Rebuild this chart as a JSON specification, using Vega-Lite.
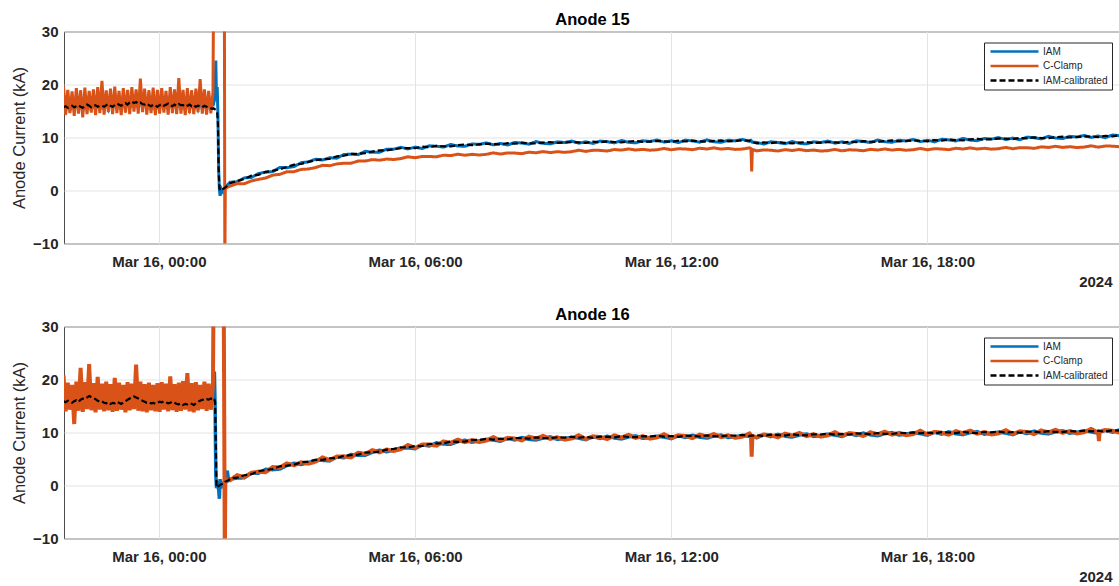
{
"$schema":"https://vega.github.io/schema/vega-lite/v6.json",
"padding":{"left":11,"top":10.5,"right":0,"bottom":0},
"spacing":15,
"resolve":{"scale":{"color":"independent","strokeDash":"independent"},"legend":{"color":"independent","strokeDash":"independent"}},
"config":{
"font":"Liberation Sans",
"view":{"stroke":"#4d4d4d","strokeWidth":1},
"axis":{"labelFont":"Liberation Sans","labelFontSize":15,"labelFontWeight":"bold","labelColor":"#262626","titleFont":"Liberation Sans","titleColor":"#262626","gridColor":"#e3e3e3","gridWidth":1,"domain":false,"ticks":false},
"title":{"font":"Liberation Sans","fontSize":16.5,"fontWeight":"bold","color":"#000000","offset":-3.5},
"legend":{"symbolType":"M-12,0H12","symbolSize":16,"symbolStrokeWidth":2.5,"symbolOffset":21.5,"labelOffset":23.5,"labelFontSize":10,"labelFont":"Liberation Sans","labelColor":"#262626","strokeColor":"#262626","fillColor":"#ffffff","padding":4,"rowPadding":4.5}
},
"datasets":{
"a15":[
{"t":"2024-03-15T21:46","i":16.2,"c":19.6,"k":15.7},
{"t":"2024-03-15T21:49","i":15.1,"c":14.3,"k":15.9},
{"t":"2024-03-15T21:52","i":17.2,"c":19.0,"k":15.6},
{"t":"2024-03-15T21:55","i":15.0,"c":14.6,"k":15.8},
{"t":"2024-03-15T21:58","i":16.8,"c":18.7,"k":16.0},
{"t":"2024-03-15T22:01","i":15.3,"c":14.1,"k":15.7},
{"t":"2024-03-15T22:04","i":17.0,"c":19.3,"k":15.9},
{"t":"2024-03-15T22:07","i":15.2,"c":14.5,"k":16.1},
{"t":"2024-03-15T22:10","i":16.9,"c":18.9,"k":15.8},
{"t":"2024-03-15T22:13","i":14.9,"c":13.8,"k":15.6},
{"t":"2024-03-15T22:16","i":17.1,"c":19.4,"k":15.9},
{"t":"2024-03-15T22:19","i":15.4,"c":14.4,"k":16.2},
{"t":"2024-03-15T22:22","i":16.7,"c":18.8,"k":16.0},
{"t":"2024-03-15T22:25","i":15.1,"c":14.7,"k":15.7},
{"t":"2024-03-15T22:28","i":17.0,"c":19.1,"k":15.9},
{"t":"2024-03-15T22:31","i":15.3,"c":14.2,"k":16.1},
{"t":"2024-03-15T22:34","i":16.9,"c":19.5,"k":15.8},
{"t":"2024-03-15T22:37","i":15.2,"c":14.6,"k":16.0},
{"t":"2024-03-15T22:40","i":17.3,"c":20.7,"k":16.0},
{"t":"2024-03-15T22:43","i":15.2,"c":14.3,"k":15.8},
{"t":"2024-03-15T22:46","i":16.8,"c":18.9,"k":16.1},
{"t":"2024-03-15T22:49","i":15.5,"c":14.8,"k":16.3},
{"t":"2024-03-15T22:52","i":17.1,"c":19.2,"k":16.0},
{"t":"2024-03-15T22:55","i":15.3,"c":14.4,"k":15.8},
{"t":"2024-03-15T22:58","i":17.2,"c":19.6,"k":16.1},
{"t":"2024-03-15T23:01","i":15.4,"c":14.6,"k":16.4},
{"t":"2024-03-15T23:04","i":16.9,"c":18.8,"k":16.2},
{"t":"2024-03-15T23:07","i":15.1,"c":14.2,"k":16.0},
{"t":"2024-03-15T23:10","i":17.0,"c":19.3,"k":16.3},
{"t":"2024-03-15T23:13","i":15.6,"c":14.7,"k":16.5},
{"t":"2024-03-15T23:16","i":17.2,"c":19.0,"k":16.2},
{"t":"2024-03-15T23:19","i":15.4,"c":14.4,"k":16.6},
{"t":"2024-03-15T23:22","i":17.4,"c":19.5,"k":16.8},
{"t":"2024-03-15T23:25","i":15.7,"c":14.9,"k":16.5},
{"t":"2024-03-15T23:28","i":17.3,"c":19.1,"k":16.7},
{"t":"2024-03-15T23:31","i":15.5,"c":14.5,"k":16.4},
{"t":"2024-03-15T23:34","i":17.6,"c":21.1,"k":16.6},
{"t":"2024-03-15T23:37","i":15.6,"c":14.8,"k":16.3},
{"t":"2024-03-15T23:40","i":17.1,"c":19.2,"k":16.2},
{"t":"2024-03-15T23:43","i":15.3,"c":14.3,"k":16.4},
{"t":"2024-03-15T23:46","i":16.9,"c":18.9,"k":16.1},
{"t":"2024-03-15T23:49","i":15.2,"c":14.6,"k":15.9},
{"t":"2024-03-15T23:52","i":17.0,"c":19.4,"k":16.2},
{"t":"2024-03-15T23:55","i":15.1,"c":14.2,"k":16.0},
{"t":"2024-03-15T23:58","i":16.8,"c":19.0,"k":15.8},
{"t":"2024-03-16T00:01","i":15.3,"c":14.5,"k":16.1},
{"t":"2024-03-16T00:04","i":17.1,"c":19.3,"k":16.3},
{"t":"2024-03-16T00:07","i":15.4,"c":14.7,"k":16.0},
{"t":"2024-03-16T00:10","i":16.9,"c":18.8,"k":16.2},
{"t":"2024-03-16T00:13","i":15.2,"c":14.3,"k":16.4},
{"t":"2024-03-16T00:16","i":17.2,"c":19.5,"k":16.1},
{"t":"2024-03-16T00:19","i":15.4,"c":14.6,"k":15.9},
{"t":"2024-03-16T00:22","i":17.0,"c":19.1,"k":16.2},
{"t":"2024-03-16T00:25","i":15.3,"c":14.4,"k":16.0},
{"t":"2024-03-16T00:28","i":17.1,"c":21.2,"k":16.3},
{"t":"2024-03-16T00:31","i":15.3,"c":14.5,"k":16.1},
{"t":"2024-03-16T00:34","i":16.9,"c":19.0,"k":16.1},
{"t":"2024-03-16T00:37","i":15.1,"c":14.2,"k":15.8},
{"t":"2024-03-16T00:40","i":17.0,"c":19.3,"k":16.0},
{"t":"2024-03-16T00:43","i":15.4,"c":14.6,"k":16.2},
{"t":"2024-03-16T00:46","i":16.8,"c":18.9,"k":15.9},
{"t":"2024-03-16T00:49","i":15.2,"c":14.4,"k":16.1},
{"t":"2024-03-16T00:52","i":17.0,"c":19.2,"k":15.8},
{"t":"2024-03-16T00:55","i":15.5,"c":14.8,"k":16.0},
{"t":"2024-03-16T00:58","i":17.1,"c":21.0,"k":15.9},
{"t":"2024-03-16T01:01","i":15.3,"c":14.5,"k":15.7},
{"t":"2024-03-16T01:04","i":17.0,"c":19.1,"k":16.0},
{"t":"2024-03-16T01:07","i":15.2,"c":14.3,"k":15.8},
{"t":"2024-03-16T01:10","i":16.9,"c":18.8,"k":15.6},
{"t":"2024-03-16T01:13","i":15.4,"c":14.6,"k":15.5},
{"t":"2024-03-16T01:16","i":16.8,"c":18.5,"k":15.4},
{"t":"2024-03-16T01:17","i":16.5,"c":40,"k":15.5},
{"t":"2024-03-16T01:19","i":17.5,"c":40,"k":15.3},
{"t":"2024-03-16T01:20","i":24.5,"c":40,"k":15.2},
{"t":"2024-03-16T01:21","i":17.0,"c":40,"k":15.0},
{"t":"2024-03-16T01:22","i":19.5,"c":40,"k":14.6},
{"t":"2024-03-16T01:23","i":14.0,"c":40,"k":12.5},
{"t":"2024-03-16T01:24","i":4.0,"c":40,"k":4.0},
{"t":"2024-03-16T01:25","i":0.2,"c":40,"k":0.6},
{"t":"2024-03-16T01:26","i":-1.0,"c":40,"k":0.0},
{"t":"2024-03-16T01:28","i":0.3,"c":40,"k":0.2},
{"t":"2024-03-16T01:30","i":-0.2,"c":40,"k":0.3},
{"t":"2024-03-16T01:32","i":0.4,"c":40,"k":0.4},
{"t":"2024-03-16T01:32:40","i":0.5,"c":-15,"k":0.5},
{"t":"2024-03-16T01:33:20","i":0.6,"c":0.3,"k":0.6},
{"t":"2024-03-16T01:36","i":1.0,"c":0.6,"k":0.9},
{"t":"2024-03-16T01:40","i":1.55,"c":0.82,"k":1.37},
{"t":"2024-03-16T01:50","i":1.65,"c":1.3,"k":1.8},
{"t":"2024-03-16T02:00","i":2.38,"c":1.28,"k":2.18},
{"t":"2024-03-16T02:10","i":2.45,"c":1.81,"k":2.8},
{"t":"2024-03-16T02:20","i":3.2,"c":2.1,"k":2.95},
{"t":"2024-03-16T02:30","i":3.45,"c":2.35,"k":3.52},
{"t":"2024-03-16T02:40","i":3.57,"c":2.9,"k":3.73},
{"t":"2024-03-16T02:50","i":4.35,"c":3.05,"k":4.0},
{"t":"2024-03-16T03:00","i":4.3,"c":3.54,"k":4.45},
{"t":"2024-03-16T03:10","i":4.52,"c":3.56,"k":4.87},
{"t":"2024-03-16T03:20","i":5.25,"c":3.98,"k":5.03},
{"t":"2024-03-16T03:30","i":5.4,"c":4.05,"k":5.39},
{"t":"2024-03-16T03:40","i":5.9,"c":4.32,"k":5.72},
{"t":"2024-03-16T03:50","i":5.75,"c":4.75,"k":5.9},
{"t":"2024-03-16T04:00","i":6.18,"c":4.68,"k":5.98},
{"t":"2024-03-16T04:10","i":6.1,"c":5.01,"k":6.45},
{"t":"2024-03-16T04:20","i":6.8,"c":5.15,"k":6.55},
{"t":"2024-03-16T04:30","i":6.85,"c":5.15,"k":6.92},
{"t":"2024-03-16T04:40","i":6.77,"c":5.55,"k":6.93},
{"t":"2024-03-16T04:50","i":7.4,"c":5.55,"k":7.05},
{"t":"2024-03-16T05:00","i":7.2,"c":5.84,"k":7.35},
{"t":"2024-03-16T05:10","i":7.22,"c":5.71,"k":7.57},
{"t":"2024-03-16T05:20","i":7.8,"c":5.93,"k":7.58},
{"t":"2024-03-16T05:30","i":7.8,"c":5.85,"k":7.79},
{"t":"2024-03-16T05:40","i":8.15,"c":6.02,"k":7.97},
{"t":"2024-03-16T05:50","i":7.85,"c":6.35,"k":8.0},
{"t":"2024-03-16T06:00","i":8.18,"c":6.18,"k":7.98},
{"t":"2024-03-16T06:10","i":7.92,"c":6.43,"k":8.27},
{"t":"2024-03-16T06:20","i":8.43,"c":6.43,"k":8.18},
{"t":"2024-03-16T06:30","i":8.35,"c":6.35,"k":8.42},
{"t":"2024-03-16T06:40","i":8.19,"c":6.67,"k":8.35},
{"t":"2024-03-16T06:50","i":8.68,"c":6.58,"k":8.33},
{"t":"2024-03-16T07:00","i":8.4,"c":6.84,"k":8.55},
{"t":"2024-03-16T07:10","i":8.34,"c":6.66,"k":8.69},
{"t":"2024-03-16T07:20","i":8.78,"c":6.83,"k":8.56},
{"t":"2024-03-16T07:30","i":8.7,"c":6.7,"k":8.69},
{"t":"2024-03-16T07:40","i":8.98,"c":6.82,"k":8.8},
{"t":"2024-03-16T07:50","i":8.62,"c":7.1,"k":8.77},
{"t":"2024-03-16T08:00","i":8.88,"c":6.88,"k":8.68},
{"t":"2024-03-16T08:10","i":8.58,"c":7.09,"k":8.93},
{"t":"2024-03-16T08:20","i":9.07,"c":7.07,"k":8.82},
{"t":"2024-03-16T08:30","i":8.95,"c":6.95,"k":9.02},
{"t":"2024-03-16T08:40","i":8.75,"c":7.23,"k":8.91},
{"t":"2024-03-16T08:50","i":9.22,"c":7.12,"k":8.87},
{"t":"2024-03-16T09:00","i":8.9,"c":7.34,"k":9.05},
{"t":"2024-03-16T09:10","i":8.79,"c":7.16,"k":9.14},
{"t":"2024-03-16T09:20","i":9.18,"c":7.33,"k":8.96},
{"t":"2024-03-16T09:30","i":9.05,"c":7.2,"k":9.04},
{"t":"2024-03-16T09:40","i":9.32,"c":7.32,"k":9.14},
{"t":"2024-03-16T09:50","i":8.93,"c":7.6,"k":9.08},
{"t":"2024-03-16T10:00","i":9.18,"c":7.38,"k":8.98},
{"t":"2024-03-16T10:10","i":8.87,"c":7.59,"k":9.22},
{"t":"2024-03-16T10:20","i":9.33,"c":7.57,"k":9.08},
{"t":"2024-03-16T10:30","i":9.2,"c":7.45,"k":9.27},
{"t":"2024-03-16T10:40","i":8.99,"c":7.73,"k":9.15},
{"t":"2024-03-16T10:50","i":9.43,"c":7.62,"k":9.08},
{"t":"2024-03-16T11:00","i":9.1,"c":7.84,"k":9.25},
{"t":"2024-03-16T11:10","i":8.99,"c":7.63,"k":9.34},
{"t":"2024-03-16T11:20","i":9.38,"c":7.76,"k":9.16},
{"t":"2024-03-16T11:30","i":9.25,"c":7.6,"k":9.24},
{"t":"2024-03-16T11:40","i":9.52,"c":7.69,"k":9.34},
{"t":"2024-03-16T11:50","i":9.13,"c":7.93,"k":9.28},
{"t":"2024-03-16T12:00","i":9.38,"c":7.68,"k":9.18},
{"t":"2024-03-16T12:10","i":9.05,"c":7.88,"k":9.4},
{"t":"2024-03-16T12:20","i":9.5,"c":7.83,"k":9.25},
{"t":"2024-03-16T12:30","i":9.35,"c":7.7,"k":9.42},
{"t":"2024-03-16T12:40","i":9.12,"c":7.97,"k":9.28},
{"t":"2024-03-16T12:50","i":9.55,"c":7.83,"k":9.2},
{"t":"2024-03-16T13:00","i":9.2,"c":8.04,"k":9.35},
{"t":"2024-03-16T13:10","i":9.09,"c":7.81,"k":9.44},
{"t":"2024-03-16T13:20","i":9.49,"c":7.93,"k":9.27},
{"t":"2024-03-16T13:30","i":9.36,"c":7.75,"k":9.35},
{"t":"2024-03-16T13:40","i":9.63,"c":7.82,"k":9.45},
{"t":"2024-03-16T13:50","i":9.25,"c":8.05,"k":9.4},
{"t":"2024-03-16T13:52","i":9.45,"c":7.9,"k":9.35},
{"t":"2024-03-16T13:53","i":9.3,"c":3.6,"k":9.28},
{"t":"2024-03-16T13:54","i":9.1,"c":7.75,"k":9.15},
{"t":"2024-03-16T14:00","i":9.08,"c":7.48,"k":8.88},
{"t":"2024-03-16T14:10","i":8.75,"c":7.66,"k":9.1},
{"t":"2024-03-16T14:20","i":9.2,"c":7.6,"k":8.95},
{"t":"2024-03-16T14:30","i":9.05,"c":7.45,"k":9.12},
{"t":"2024-03-16T14:40","i":8.82,"c":7.7,"k":8.98},
{"t":"2024-03-16T14:50","i":9.25,"c":7.55,"k":8.9},
{"t":"2024-03-16T15:00","i":8.9,"c":7.74,"k":9.05},
{"t":"2024-03-16T15:10","i":8.79,"c":7.51,"k":9.14},
{"t":"2024-03-16T15:20","i":9.18,"c":7.63,"k":8.96},
{"t":"2024-03-16T15:30","i":9.05,"c":7.45,"k":9.04},
{"t":"2024-03-16T15:40","i":9.32,"c":7.52,"k":9.14},
{"t":"2024-03-16T15:50","i":8.93,"c":7.75,"k":9.08},
{"t":"2024-03-16T16:00","i":9.18,"c":7.48,"k":8.98},
{"t":"2024-03-16T16:10","i":8.88,"c":7.68,"k":9.23},
{"t":"2024-03-16T16:20","i":9.37,"c":7.63,"k":9.12},
{"t":"2024-03-16T16:30","i":9.25,"c":7.5,"k":9.32},
{"t":"2024-03-16T16:40","i":9.05,"c":7.77,"k":9.21},
{"t":"2024-03-16T16:50","i":9.52,"c":7.63,"k":9.17},
{"t":"2024-03-16T17:00","i":9.2,"c":7.84,"k":9.35},
{"t":"2024-03-16T17:10","i":9.09,"c":7.63,"k":9.44},
{"t":"2024-03-16T17:20","i":9.48,"c":7.76,"k":9.26},
{"t":"2024-03-16T17:30","i":9.35,"c":7.6,"k":9.34},
{"t":"2024-03-16T17:40","i":9.62,"c":7.69,"k":9.44},
{"t":"2024-03-16T17:50","i":9.23,"c":7.93,"k":9.38},
{"t":"2024-03-16T18:00","i":9.48,"c":7.68,"k":9.28},
{"t":"2024-03-16T18:10","i":9.18,"c":7.88,"k":9.53},
{"t":"2024-03-16T18:20","i":9.67,"c":7.83,"k":9.42},
{"t":"2024-03-16T18:30","i":9.55,"c":7.7,"k":9.62},
{"t":"2024-03-16T18:40","i":9.35,"c":7.97,"k":9.51},
{"t":"2024-03-16T18:50","i":9.82,"c":7.83,"k":9.47},
{"t":"2024-03-16T19:00","i":9.5,"c":8.04,"k":9.65},
{"t":"2024-03-16T19:10","i":9.4,"c":7.83,"k":9.75},
{"t":"2024-03-16T19:20","i":9.82,"c":7.96,"k":9.6},
{"t":"2024-03-16T19:30","i":9.7,"c":7.8,"k":9.69},
{"t":"2024-03-16T19:40","i":9.98,"c":7.89,"k":9.8},
{"t":"2024-03-16T19:50","i":9.62,"c":8.13,"k":9.77},
{"t":"2024-03-16T20:00","i":9.88,"c":7.88,"k":9.68},
{"t":"2024-03-16T20:10","i":9.58,"c":8.09,"k":9.93},
{"t":"2024-03-16T20:20","i":10.07,"c":8.07,"k":9.82},
{"t":"2024-03-16T20:30","i":9.95,"c":7.95,"k":10.02},
{"t":"2024-03-16T20:40","i":9.75,"c":8.23,"k":9.91},
{"t":"2024-03-16T20:50","i":10.22,"c":8.12,"k":9.87},
{"t":"2024-03-16T21:00","i":9.9,"c":8.34,"k":10.05},
{"t":"2024-03-16T21:10","i":9.8,"c":8.13,"k":10.15},
{"t":"2024-03-16T21:20","i":10.22,"c":8.26,"k":10.0},
{"t":"2024-03-16T21:30","i":10.1,"c":8.1,"k":10.09},
{"t":"2024-03-16T21:40","i":10.38,"c":8.19,"k":10.2},
{"t":"2024-03-16T21:50","i":10.02,"c":8.43,"k":10.17},
{"t":"2024-03-16T22:00","i":10.28,"c":8.18,"k":10.08},
{"t":"2024-03-16T22:10","i":9.98,"c":8.39,"k":10.33},
{"t":"2024-03-16T22:20","i":10.47,"c":8.37,"k":10.22},
{"t":"2024-03-16T22:30","i":10.35,"c":8.25,"k":10.42},
{"t":"2024-03-16T22:40","i":10.12,"c":8.5,"k":10.28}
],
"a16":[
{"t":"2024-03-15T21:46","i":16.5,"c":20.8,"k":15.9},
{"t":"2024-03-15T21:49","i":15.2,"c":14.0,"k":15.7},
{"t":"2024-03-15T21:52","i":17.0,"c":19.4,"k":16.0},
{"t":"2024-03-15T21:55","i":15.0,"c":14.3,"k":15.8},
{"t":"2024-03-15T21:58","i":16.8,"c":19.0,"k":15.6},
{"t":"2024-03-15T22:01","i":15.1,"c":11.6,"k":15.9},
{"t":"2024-03-15T22:04","i":17.1,"c":19.6,"k":16.1},
{"t":"2024-03-15T22:07","i":15.3,"c":14.1,"k":15.8},
{"t":"2024-03-15T22:10","i":17.0,"c":22.2,"k":16.2},
{"t":"2024-03-15T22:13","i":15.2,"c":13.9,"k":16.4},
{"t":"2024-03-15T22:16","i":16.9,"c":19.5,"k":16.3},
{"t":"2024-03-15T22:19","i":15.4,"c":14.4,"k":16.6},
{"t":"2024-03-15T22:22","i":17.2,"c":22.9,"k":16.9},
{"t":"2024-03-15T22:25","i":15.6,"c":14.2,"k":16.7},
{"t":"2024-03-15T22:28","i":17.0,"c":19.3,"k":16.5},
{"t":"2024-03-15T22:31","i":15.3,"c":13.8,"k":16.3},
{"t":"2024-03-15T22:34","i":17.1,"c":20.5,"k":16.0},
{"t":"2024-03-15T22:37","i":15.2,"c":14.3,"k":15.8},
{"t":"2024-03-15T22:40","i":16.8,"c":19.2,"k":15.9},
{"t":"2024-03-15T22:43","i":15.1,"c":14.0,"k":15.6},
{"t":"2024-03-15T22:46","i":17.0,"c":19.6,"k":15.5},
{"t":"2024-03-15T22:49","i":15.0,"c":14.2,"k":15.7},
{"t":"2024-03-15T22:52","i":16.7,"c":19.1,"k":15.4},
{"t":"2024-03-15T22:55","i":14.9,"c":13.9,"k":15.6},
{"t":"2024-03-15T22:58","i":16.9,"c":20.3,"k":15.5},
{"t":"2024-03-15T23:01","i":15.1,"c":14.1,"k":15.8},
{"t":"2024-03-15T23:04","i":17.0,"c":19.4,"k":15.6},
{"t":"2024-03-15T23:07","i":15.2,"c":14.3,"k":15.4},
{"t":"2024-03-15T23:10","i":16.8,"c":19.0,"k":15.7},
{"t":"2024-03-15T23:13","i":15.0,"c":13.8,"k":15.9},
{"t":"2024-03-15T23:16","i":17.1,"c":19.5,"k":16.2},
{"t":"2024-03-15T23:19","i":15.4,"c":14.2,"k":16.4},
{"t":"2024-03-15T23:22","i":17.2,"c":19.2,"k":16.6},
{"t":"2024-03-15T23:25","i":15.6,"c":14.4,"k":16.8},
{"t":"2024-03-15T23:28","i":17.3,"c":22.8,"k":16.6},
{"t":"2024-03-15T23:31","i":15.5,"c":14.1,"k":16.4},
{"t":"2024-03-15T23:34","i":17.0,"c":19.6,"k":16.2},
{"t":"2024-03-15T23:37","i":15.2,"c":14.0,"k":16.0},
{"t":"2024-03-15T23:40","i":16.8,"c":19.1,"k":15.8},
{"t":"2024-03-15T23:43","i":15.0,"c":13.8,"k":15.6},
{"t":"2024-03-15T23:46","i":16.9,"c":19.4,"k":15.7},
{"t":"2024-03-15T23:49","i":15.1,"c":14.2,"k":15.5},
{"t":"2024-03-15T23:52","i":16.7,"c":19.0,"k":15.6},
{"t":"2024-03-15T23:55","i":15.0,"c":14.0,"k":15.4},
{"t":"2024-03-15T23:58","i":16.8,"c":19.3,"k":15.6},
{"t":"2024-03-16T00:01","i":14.9,"c":13.9,"k":15.8},
{"t":"2024-03-16T00:04","i":17.0,"c":19.5,"k":15.7},
{"t":"2024-03-16T00:07","i":15.2,"c":14.3,"k":15.9},
{"t":"2024-03-16T00:10","i":16.9,"c":19.2,"k":15.7},
{"t":"2024-03-16T00:13","i":15.1,"c":14.0,"k":15.5},
{"t":"2024-03-16T00:16","i":17.0,"c":20.6,"k":15.6},
{"t":"2024-03-16T00:19","i":15.2,"c":14.2,"k":15.8},
{"t":"2024-03-16T00:22","i":16.8,"c":19.1,"k":15.6},
{"t":"2024-03-16T00:25","i":15.0,"c":13.9,"k":15.4},
{"t":"2024-03-16T00:28","i":16.9,"c":19.4,"k":15.3},
{"t":"2024-03-16T00:31","i":15.1,"c":14.1,"k":15.5},
{"t":"2024-03-16T00:34","i":16.7,"c":19.7,"k":15.2},
{"t":"2024-03-16T00:37","i":15.0,"c":14.3,"k":15.4},
{"t":"2024-03-16T00:40","i":16.9,"c":21.2,"k":15.3},
{"t":"2024-03-16T00:43","i":15.2,"c":14.0,"k":15.5},
{"t":"2024-03-16T00:46","i":16.8,"c":19.3,"k":15.4},
{"t":"2024-03-16T00:49","i":15.0,"c":13.8,"k":15.2},
{"t":"2024-03-16T00:52","i":17.0,"c":19.5,"k":15.5},
{"t":"2024-03-16T00:55","i":15.3,"c":14.2,"k":15.8},
{"t":"2024-03-16T00:58","i":16.9,"c":19.0,"k":16.0},
{"t":"2024-03-16T01:01","i":15.4,"c":14.4,"k":16.2},
{"t":"2024-03-16T01:04","i":17.1,"c":19.6,"k":16.1},
{"t":"2024-03-16T01:07","i":15.3,"c":14.1,"k":16.3},
{"t":"2024-03-16T01:10","i":17.0,"c":19.2,"k":16.2},
{"t":"2024-03-16T01:13","i":15.4,"c":14.3,"k":16.4},
{"t":"2024-03-16T01:16","i":16.5,"c":19.0,"k":16.2},
{"t":"2024-03-16T01:17","i":17.0,"c":40,"k":16.4},
{"t":"2024-03-16T01:18","i":21.5,"c":40,"k":16.3},
{"t":"2024-03-16T01:19","i":15.0,"c":40,"k":15.8},
{"t":"2024-03-16T01:20","i":2.0,"c":40,"k":8.0},
{"t":"2024-03-16T01:21","i":-0.5,"c":40,"k":-0.3},
{"t":"2024-03-16T01:22","i":0.8,"c":40,"k":-0.4},
{"t":"2024-03-16T01:23","i":-0.3,"c":40,"k":-0.2},
{"t":"2024-03-16T01:24","i":-0.8,"c":40,"k":-0.1},
{"t":"2024-03-16T01:25","i":-2.5,"c":40,"k":0.0},
{"t":"2024-03-16T01:26","i":1.2,"c":40,"k":0.1},
{"t":"2024-03-16T01:27","i":-0.5,"c":40,"k":0.2},
{"t":"2024-03-16T01:29","i":0.3,"c":40,"k":0.3},
{"t":"2024-03-16T01:31","i":0.5,"c":40,"k":0.4},
{"t":"2024-03-16T01:32:40","i":0.6,"c":-15,"k":0.5},
{"t":"2024-03-16T01:33:20","i":0.8,"c":0.6,"k":0.7},
{"t":"2024-03-16T01:36","i":2.8,"c":1.0,"k":0.9},
{"t":"2024-03-16T01:38","i":1.0,"c":1.1,"k":1.0},
{"t":"2024-03-16T01:40","i":1.23,"c":1.0,"k":1.32},
{"t":"2024-03-16T01:50","i":1.4,"c":1.95,"k":1.48},
{"t":"2024-03-16T02:00","i":1.45,"c":1.58,"k":1.94},
{"t":"2024-03-16T02:10","i":2.34,"c":2.41,"k":2.13},
{"t":"2024-03-16T02:20","i":2.33,"c":2.6,"k":2.7},
{"t":"2024-03-16T02:30","i":3.05,"c":2.5,"k":2.92},
{"t":"2024-03-16T02:40","i":2.99,"c":3.48,"k":3.12},
{"t":"2024-03-16T02:50","i":3.11,"c":3.38,"k":3.62},
{"t":"2024-03-16T03:00","i":3.77,"c":4.16,"k":3.75},
{"t":"2024-03-16T03:10","i":4.2,"c":3.81,"k":3.94},
{"t":"2024-03-16T03:20","i":3.97,"c":4.38,"k":4.37},
{"t":"2024-03-16T03:30","i":4.32,"c":4.1,"k":4.5},
{"t":"2024-03-16T03:40","i":4.73,"c":4.5,"k":4.82},
{"t":"2024-03-16T03:50","i":4.75,"c":5.3,"k":4.83},
{"t":"2024-03-16T04:00","i":4.65,"c":4.78,"k":5.14},
{"t":"2024-03-16T04:10","i":5.39,"c":5.46,"k":5.18},
{"t":"2024-03-16T04:20","i":5.23,"c":5.5,"k":5.6},
{"t":"2024-03-16T04:30","i":5.85,"c":5.3,"k":5.72},
{"t":"2024-03-16T04:40","i":5.69,"c":6.18,"k":5.82},
{"t":"2024-03-16T04:50","i":5.71,"c":5.98,"k":6.22},
{"t":"2024-03-16T05:00","i":6.27,"c":6.66,"k":6.25},
{"t":"2024-03-16T05:10","i":6.65,"c":6.26,"k":6.39},
{"t":"2024-03-16T05:20","i":6.37,"c":6.78,"k":6.77},
{"t":"2024-03-16T05:30","i":6.72,"c":6.5,"k":6.9},
{"t":"2024-03-16T05:40","i":7.08,"c":6.85,"k":7.17},
{"t":"2024-03-16T05:50","i":7.1,"c":7.65,"k":7.18},
{"t":"2024-03-16T06:00","i":6.95,"c":7.08,"k":7.44},
{"t":"2024-03-16T06:10","i":7.66,"c":7.73,"k":7.45},
{"t":"2024-03-16T06:20","i":7.46,"c":7.73,"k":7.83},
{"t":"2024-03-16T06:30","i":8.05,"c":7.5,"k":7.92},
{"t":"2024-03-16T06:40","i":7.82,"c":8.31,"k":7.95},
{"t":"2024-03-16T06:50","i":7.78,"c":8.05,"k":8.29},
{"t":"2024-03-16T07:00","i":8.27,"c":8.66,"k":8.25},
{"t":"2024-03-16T07:10","i":8.55,"c":8.16,"k":8.29},
{"t":"2024-03-16T07:20","i":8.17,"c":8.58,"k":8.57},
{"t":"2024-03-16T07:30","i":8.42,"c":8.2,"k":8.6},
{"t":"2024-03-16T07:40","i":8.7,"c":8.47,"k":8.79},
{"t":"2024-03-16T07:50","i":8.58,"c":9.13,"k":8.66},
{"t":"2024-03-16T08:00","i":8.35,"c":8.48,"k":8.84},
{"t":"2024-03-16T08:10","i":8.92,"c":8.99,"k":8.71},
{"t":"2024-03-16T08:20","i":8.6,"c":8.87,"k":8.97},
{"t":"2024-03-16T08:30","i":9.05,"c":8.5,"k":8.92},
{"t":"2024-03-16T08:40","i":8.72,"c":9.21,"k":8.85},
{"t":"2024-03-16T08:50","i":8.58,"c":8.85,"k":9.09},
{"t":"2024-03-16T09:00","i":8.97,"c":9.36,"k":8.95},
{"t":"2024-03-16T09:10","i":9.17,"c":8.78,"k":8.91},
{"t":"2024-03-16T09:20","i":8.7,"c":9.11,"k":9.1},
{"t":"2024-03-16T09:30","i":8.87,"c":8.65,"k":9.05},
{"t":"2024-03-16T09:40","i":9.1,"c":8.87,"k":9.19},
{"t":"2024-03-16T09:50","i":8.93,"c":9.48,"k":9.01},
{"t":"2024-03-16T10:00","i":8.65,"c":8.78,"k":9.14},
{"t":"2024-03-16T10:10","i":9.21,"c":9.28,"k":9.0},
{"t":"2024-03-16T10:20","i":8.86,"c":9.13,"k":9.23},
{"t":"2024-03-16T10:30","i":9.3,"c":8.75,"k":9.17},
{"t":"2024-03-16T10:40","i":8.96,"c":9.45,"k":9.09},
{"t":"2024-03-16T10:50","i":8.79,"c":9.06,"k":9.3},
{"t":"2024-03-16T11:00","i":9.17,"c":9.56,"k":9.15},
{"t":"2024-03-16T11:10","i":9.37,"c":8.98,"k":9.11},
{"t":"2024-03-16T11:20","i":8.9,"c":9.31,"k":9.3},
{"t":"2024-03-16T11:30","i":9.07,"c":8.85,"k":9.25},
{"t":"2024-03-16T11:40","i":9.3,"c":9.07,"k":9.39},
{"t":"2024-03-16T11:50","i":9.13,"c":9.68,"k":9.21},
{"t":"2024-03-16T12:00","i":8.85,"c":8.98,"k":9.34},
{"t":"2024-03-16T12:10","i":9.4,"c":9.47,"k":9.19},
{"t":"2024-03-16T12:20","i":9.05,"c":9.32,"k":9.42},
{"t":"2024-03-16T12:30","i":9.48,"c":8.93,"k":9.35},
{"t":"2024-03-16T12:40","i":9.12,"c":9.61,"k":9.25},
{"t":"2024-03-16T12:50","i":8.95,"c":9.22,"k":9.46},
{"t":"2024-03-16T13:00","i":9.32,"c":9.71,"k":9.3},
{"t":"2024-03-16T13:10","i":9.52,"c":9.13,"k":9.26},
{"t":"2024-03-16T13:20","i":9.05,"c":9.46,"k":9.45},
{"t":"2024-03-16T13:30","i":9.22,"c":9.0,"k":9.4},
{"t":"2024-03-16T13:40","i":9.45,"c":9.22,"k":9.54},
{"t":"2024-03-16T13:50","i":9.28,"c":9.83,"k":9.36},
{"t":"2024-03-16T13:52","i":9.2,"c":9.5,"k":9.4},
{"t":"2024-03-16T13:53","i":9.15,"c":5.45,"k":9.42},
{"t":"2024-03-16T13:54","i":9.3,"c":9.3,"k":9.4},
{"t":"2024-03-16T14:00","i":9.0,"c":9.13,"k":9.49},
{"t":"2024-03-16T14:10","i":9.56,"c":9.63,"k":9.35},
{"t":"2024-03-16T14:20","i":9.21,"c":9.48,"k":9.58},
{"t":"2024-03-16T14:30","i":9.65,"c":9.1,"k":9.52},
{"t":"2024-03-16T14:40","i":9.31,"c":9.8,"k":9.44},
{"t":"2024-03-16T14:50","i":9.14,"c":9.41,"k":9.65},
{"t":"2024-03-16T15:00","i":9.52,"c":9.91,"k":9.5},
{"t":"2024-03-16T15:10","i":9.72,"c":9.33,"k":9.46},
{"t":"2024-03-16T15:20","i":9.27,"c":9.68,"k":9.67},
{"t":"2024-03-16T15:30","i":9.44,"c":9.22,"k":9.62},
{"t":"2024-03-16T15:40","i":9.68,"c":9.45,"k":9.77},
{"t":"2024-03-16T15:50","i":9.52,"c":10.07,"k":9.6},
{"t":"2024-03-16T16:00","i":9.25,"c":9.38,"k":9.74},
{"t":"2024-03-16T16:10","i":9.81,"c":9.88,"k":9.6},
{"t":"2024-03-16T16:20","i":9.46,"c":9.73,"k":9.83},
{"t":"2024-03-16T16:30","i":9.9,"c":9.35,"k":9.77},
{"t":"2024-03-16T16:40","i":9.56,"c":10.05,"k":9.69},
{"t":"2024-03-16T16:50","i":9.39,"c":9.66,"k":9.9},
{"t":"2024-03-16T17:00","i":9.77,"c":10.16,"k":9.75},
{"t":"2024-03-16T17:10","i":9.98,"c":9.59,"k":9.72},
{"t":"2024-03-16T17:20","i":9.52,"c":9.93,"k":9.92},
{"t":"2024-03-16T17:30","i":9.7,"c":9.48,"k":9.88},
{"t":"2024-03-16T17:40","i":9.93,"c":9.7,"k":10.02},
{"t":"2024-03-16T17:50","i":9.78,"c":10.33,"k":9.86},
{"t":"2024-03-16T18:00","i":9.5,"c":9.63,"k":9.99},
{"t":"2024-03-16T18:10","i":10.05,"c":10.12,"k":9.84},
{"t":"2024-03-16T18:20","i":9.7,"c":9.97,"k":10.07},
{"t":"2024-03-16T18:30","i":10.13,"c":9.58,"k":10.0},
{"t":"2024-03-16T18:40","i":9.77,"c":10.26,"k":9.9},
{"t":"2024-03-16T18:50","i":9.6,"c":9.87,"k":10.11},
{"t":"2024-03-16T19:00","i":9.97,"c":10.36,"k":9.95},
{"t":"2024-03-16T19:10","i":10.16,"c":9.77,"k":9.9},
{"t":"2024-03-16T19:20","i":9.69,"c":10.1,"k":10.09},
{"t":"2024-03-16T19:30","i":9.85,"c":9.63,"k":10.03},
{"t":"2024-03-16T19:40","i":10.07,"c":9.84,"k":10.16},
{"t":"2024-03-16T19:50","i":9.89,"c":10.44,"k":9.97},
{"t":"2024-03-16T20:00","i":9.6,"c":9.73,"k":10.09},
{"t":"2024-03-16T20:10","i":10.16,"c":10.23,"k":9.95},
{"t":"2024-03-16T20:20","i":9.81,"c":10.08,"k":10.18},
{"t":"2024-03-16T20:30","i":10.25,"c":9.7,"k":10.12},
{"t":"2024-03-16T20:40","i":9.91,"c":10.4,"k":10.04},
{"t":"2024-03-16T20:50","i":9.74,"c":10.01,"k":10.25},
{"t":"2024-03-16T21:00","i":10.12,"c":10.51,"k":10.1},
{"t":"2024-03-16T21:10","i":10.33,"c":9.94,"k":10.07},
{"t":"2024-03-16T21:20","i":9.87,"c":10.28,"k":10.27},
{"t":"2024-03-16T21:30","i":10.04,"c":9.82,"k":10.22},
{"t":"2024-03-16T21:40","i":10.28,"c":10.05,"k":10.37},
{"t":"2024-03-16T21:50","i":10.13,"c":10.68,"k":10.21},
{"t":"2024-03-16T22:00","i":9.85,"c":9.98,"k":10.34},
{"t":"2024-03-16T22:01","i":10.0,"c":8.4,"k":10.3},
{"t":"2024-03-16T22:02","i":10.1,"c":10.2,"k":10.28},
{"t":"2024-03-16T22:10","i":10.4,"c":10.47,"k":10.19},
{"t":"2024-03-16T22:20","i":10.05,"c":10.32,"k":10.42},
{"t":"2024-03-16T22:30","i":10.49,"c":9.94,"k":10.36},
{"t":"2024-03-16T22:40","i":10.14,"c":10.63,"k":10.27}
]
},
"vconcat":[
{
"title":"Anode 15",
"width":1057,"height":212,
"data":{"name":"a15"},
"encoding":{"x":{"field":"t","type":"temporal","title":"2024","scale":{"domain":[{"year":2024,"month":3,"date":15,"hours":21,"minutes":46,"seconds":40},{"year":2024,"month":3,"date":16,"hours":22,"minutes":32}]},"axis":{"values":[{"year":2024,"month":3,"date":16,"hours":0},{"year":2024,"month":3,"date":16,"hours":6},{"year":2024,"month":3,"date":16,"hours":12},{"year":2024,"month":3,"date":16,"hours":18}],"format":"%b %d, %H:%M","labelPadding":11,"labelOverlap":false,"labelFlush":false,"grid":true,"titleFontSize":15,"titleFontWeight":"bold","titleX":1048,"titleY":31,"titleAlign":"right","titleBaseline":"top"}}},
"layer":[
{"mark":{"type":"line","clip":true,"strokeWidth":3},"encoding":{"y":{"field":"i","type":"quantitative","title":"Anode Current (kA)","scale":{"domain":[-10,30]},"axis":{"values":[-10,0,10,20,30],"grid":true,"labelPadding":6,"titlePadding":5,"titleFontSize":16.5,"titleFontWeight":"normal"}},"color":{"datum":"IAM","type":"nominal","scale":{"domain":["IAM","C-Clamp","IAM-calibrated"],"range":["#0072BD","#D95319","#000000"]},"legend":{"title":null,"orient":"none","legendX":920,"legendY":11}},"strokeDash":{"datum":"IAM","type":"nominal","scale":{"domain":["IAM","C-Clamp","IAM-calibrated"],"range":[[1,0],[1,0],[6,3]]},"legend":{"title":null,"orient":"none","legendX":920,"legendY":11}}}},
{"mark":{"type":"line","clip":true,"strokeWidth":3},"encoding":{"y":{"field":"c","type":"quantitative","title":"Anode Current (kA)"},"color":{"datum":"C-Clamp","type":"nominal","scale":{"domain":["IAM","C-Clamp","IAM-calibrated"],"range":["#0072BD","#D95319","#000000"]},"legend":{"title":null,"orient":"none","legendX":920,"legendY":11}},"strokeDash":{"datum":"C-Clamp","type":"nominal","scale":{"domain":["IAM","C-Clamp","IAM-calibrated"],"range":[[1,0],[1,0],[6,3]]},"legend":{"title":null,"orient":"none","legendX":920,"legendY":11}}}},
{"mark":{"type":"line","clip":true,"strokeWidth":2.2},"encoding":{"y":{"field":"k","type":"quantitative","title":"Anode Current (kA)"},"color":{"datum":"IAM-calibrated","type":"nominal","scale":{"domain":["IAM","C-Clamp","IAM-calibrated"],"range":["#0072BD","#D95319","#000000"]},"legend":{"title":null,"orient":"none","legendX":920,"legendY":11}},"strokeDash":{"datum":"IAM-calibrated","type":"nominal","scale":{"domain":["IAM","C-Clamp","IAM-calibrated"],"range":[[1,0],[1,0],[6,3]]},"legend":{"title":null,"orient":"none","legendX":920,"legendY":11}}}}
]
},
{
"title":"Anode 16",
"width":1057,"height":212,
"data":{"name":"a16"},
"encoding":{"x":{"field":"t","type":"temporal","title":"2024","scale":{"domain":[{"year":2024,"month":3,"date":15,"hours":21,"minutes":46,"seconds":40},{"year":2024,"month":3,"date":16,"hours":22,"minutes":32}]},"axis":{"values":[{"year":2024,"month":3,"date":16,"hours":0},{"year":2024,"month":3,"date":16,"hours":6},{"year":2024,"month":3,"date":16,"hours":12},{"year":2024,"month":3,"date":16,"hours":18}],"format":"%b %d, %H:%M","labelPadding":11,"labelOverlap":false,"labelFlush":false,"grid":true,"titleFontSize":15,"titleFontWeight":"bold","titleX":1048,"titleY":31,"titleAlign":"right","titleBaseline":"top"}}},
"layer":[
{"mark":{"type":"line","clip":true,"strokeWidth":3.5},"encoding":{"y":{"field":"i","type":"quantitative","title":"Anode Current (kA)","scale":{"domain":[-10,30]},"axis":{"values":[-10,0,10,20,30],"grid":true,"labelPadding":6,"titlePadding":5,"titleFontSize":16.5,"titleFontWeight":"normal"}},"color":{"datum":"IAM","type":"nominal","scale":{"domain":["IAM","C-Clamp","IAM-calibrated"],"range":["#0072BD","#D95319","#000000"]},"legend":{"title":null,"orient":"none","legendX":920,"legendY":11}},"strokeDash":{"datum":"IAM","type":"nominal","scale":{"domain":["IAM","C-Clamp","IAM-calibrated"],"range":[[1,0],[1,0],[6,3]]},"legend":{"title":null,"orient":"none","legendX":920,"legendY":11}}}},
{"mark":{"type":"line","clip":true,"strokeWidth":4},"encoding":{"y":{"field":"c","type":"quantitative","title":"Anode Current (kA)"},"color":{"datum":"C-Clamp","type":"nominal","scale":{"domain":["IAM","C-Clamp","IAM-calibrated"],"range":["#0072BD","#D95319","#000000"]},"legend":{"title":null,"orient":"none","legendX":920,"legendY":11}},"strokeDash":{"datum":"C-Clamp","type":"nominal","scale":{"domain":["IAM","C-Clamp","IAM-calibrated"],"range":[[1,0],[1,0],[6,3]]},"legend":{"title":null,"orient":"none","legendX":920,"legendY":11}}}},
{"mark":{"type":"line","clip":true,"strokeWidth":2.2},"encoding":{"y":{"field":"k","type":"quantitative","title":"Anode Current (kA)"},"color":{"datum":"IAM-calibrated","type":"nominal","scale":{"domain":["IAM","C-Clamp","IAM-calibrated"],"range":["#0072BD","#D95319","#000000"]},"legend":{"title":null,"orient":"none","legendX":920,"legendY":11}},"strokeDash":{"datum":"IAM-calibrated","type":"nominal","scale":{"domain":["IAM","C-Clamp","IAM-calibrated"],"range":[[1,0],[1,0],[6,3]]},"legend":{"title":null,"orient":"none","legendX":920,"legendY":11}}}}
]
}
]
}
